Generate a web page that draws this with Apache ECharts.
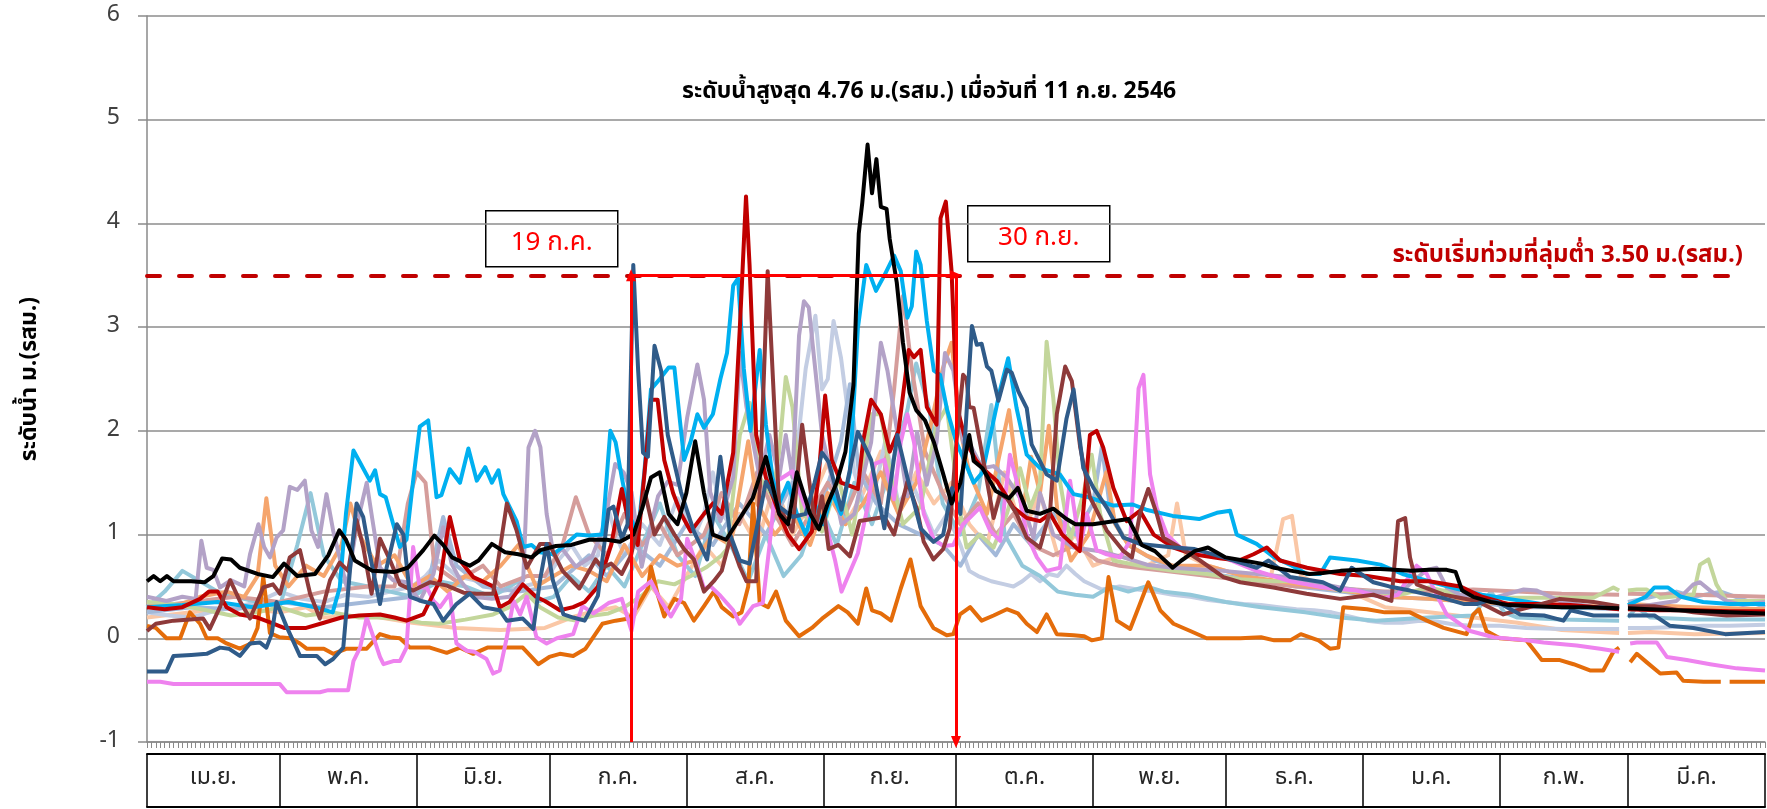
<!DOCTYPE html>
<html><head><meta charset="utf-8">
<script src="https://cdn.jsdelivr.net/npm/echarts@6/dist/echarts.min.js"></script>
<style>html,body{margin:0;padding:0;background:#fff}#c{width:1767px;height:809px}</style>
</head><body><div id="c"></div>
<script>
// ---- categories / ticks ----
const months = ['เม.ย.','พ.ค.','มิ.ย.','ก.ค.','ส.ค.','ก.ย.','ต.ค.','พ.ย.','ธ.ค.','ม.ค.','ก.พ.','มี.ค.'];
const monthDays = [30,31,30,31,31,30,31,30,31,31,29,31];
const yTicks = {min:-1, max:6, step:1};
const threshold = 3.5;
const floodStartDay = 109.5; // 19 ก.ค.
const floodEndDay = 183;     // 30 ก.ย.
const titleText = 'ระดับน้ำสูงสุด 4.76 ม.(รสม.) เมื่อวันที่ 11 ก.ย. 2546';
const thresholdText = 'ระดับเริ่มท่วมที่ลุ่มต่ำ 3.50 ม.(รสม.)';
const yName = 'ระดับน้ำ ม.(รสม.)';

// ---- series values: [day from 1 Apr, level m.(MSL)] ----
const sBlack = [[0,0.55],[1.5,0.6],[3,0.55],[4.5,0.6],[6,0.55],[10,0.55],[13,0.54],[15,0.6],[17,0.77],[19,0.76],[21,0.68],[25,0.62],[28.5,0.59],[31,0.72],[34,0.6],[38,0.62],[41,0.8],[43.5,1.04],[45,0.95],[47,0.75],[51,0.65],[56,0.64],[59,0.68],[62.5,0.85],[65,0.99],[67,0.9],[69,0.78],[73,0.7],[75,0.75],[78,0.91],[81,0.83],[84,0.81],[87,0.78],[89,0.85],[92.5,0.89],[96,0.9],[100,0.95],[104,0.95],[107,0.93],[110,1.0],[112,1.25],[114,1.55],[116,1.6],[118,1.2],[120,1.1],[122,1.4],[124,1.9],[126,1.4],[128,1.0],[131,0.95],[134,1.15],[137,1.35],[140,1.75],[143,1.2],[145,1.1],[147,1.6],[150,1.2],[152,1.05],[154,1.3],[156,1.5],[158,1.8],[159.8,2.44],[161,3.9],[161.8,4.2],[163,4.76],[164,4.29],[165,4.62],[166,4.16],[167.3,4.14],[168,3.85],[169.6,3.43],[171,2.85],[172.5,2.37],[174,2.2],[176,2.1],[178,1.89],[180,1.6],[182,1.3],[184,1.5],[186,1.96],[187,1.71],[189,1.64],[192,1.42],[195,1.35],[197,1.45],[199,1.23],[202,1.2],[205,1.25],[208,1.15],[210,1.1],[214,1.1],[219,1.13],[222,1.15],[225,0.9],[228,0.84],[232,0.68],[234,0.75],[237,0.84],[240,0.875],[244,0.78],[248,0.75],[252,0.72],[255,0.68],[259,0.65],[263,0.62],[266,0.63],[270,0.65],[274,0.66],[278,0.67],[282,0.66],[286,0.65],[290,0.66],[294,0.66],[296,0.64],[297.5,0.46],[300,0.4],[304,0.35],[308,0.32],[314,0.31],[320,0.3],[326,0.3],[333,0.29],[334,null],[335,0.29],[340,0.28],[346,0.27],[352,0.26],[358,0.25],[366,0.24]];
const sCyan = [[0,0.3],[8,0.32],[16,0.35],[24,0.3],[32,0.35],[38,0.3],[42,0.25],[43.6,0.49],[45,1.2],[46.7,1.81],[48,1.71],[50.4,1.52],[51.6,1.62],[52.7,1.39],[54,1.36],[55.7,1.1],[57.2,0.88],[58.7,0.95],[60.2,1.52],[61.7,2.04],[63.6,2.1],[65.5,1.36],[66.6,1.38],[68.5,1.63],[70.8,1.5],[72.7,1.83],[74.6,1.52],[76.5,1.65],[78,1.5],[79.5,1.62],[80.6,1.39],[82.1,1.26],[83.6,1.13],[85.1,0.88],[87,0.9],[88.9,0.83],[91.9,0.81],[94,0.88],[97.2,1.0],[100,0.99],[103,1.0],[104.8,2.0],[106,1.89],[107.4,1.55],[109,1.2],[111,1.0],[112.5,1.6],[114,2.4],[116,2.5],[118,2.61],[119.3,2.61],[120.3,2.2],[121.5,1.72],[123,1.9],[124.5,2.16],[126,2.03],[128,2.16],[129.7,2.5],[131.2,2.75],[132.6,3.4],[133.7,3.47],[135,2.6],[136.5,2.0],[138.6,2.78],[140,2.06],[141.5,1.55],[143,1.3],[145,1.5],[147,1.2],[149,1.0],[151,1.3],[153,1.1],[155,1.4],[157,1.2],[159,1.6],[160.8,2.99],[162.7,3.6],[164.9,3.35],[166.8,3.5],[169,3.69],[170.5,3.54],[172,3.09],[173,3.2],[174,3.73],[175,3.6],[176.4,3.06],[178,2.58],[179.4,2.54],[181,2.2],[183,1.9],[185,1.7],[187,1.5],[189,1.6],[191,2.0],[193,2.4],[194.8,2.7],[196.7,2.22],[199,1.77],[202,1.64],[206.5,1.58],[209.6,1.39],[213,1.36],[218.6,1.28],[223,1.29],[226,1.24],[232,1.18],[238,1.15],[242,1.21],[245,1.23],[246.5,1.0],[251,0.91],[255,0.78],[259,0.7],[262.4,0.62],[265.4,0.62],[267.6,0.78],[273.7,0.75],[279,0.71],[284,0.62],[290,0.55],[296,0.48],[302,0.42],[308,0.38],[314,0.34],[320,0.3],[326,0.3],[333,0.3],[334,null],[335,0.32],[339,0.4],[341,0.49],[344,0.49],[347,0.4],[352,0.35],[358,0.33],[366,0.33]];
const sDarkRed = [[0,0.3],[4,0.28],[8,0.3],[12,0.38],[14,0.45],[16,0.45],[18,0.3],[21,0.23],[25,0.2],[28,0.15],[31,0.1],[36,0.1],[40,0.15],[44,0.2],[48,0.22],[52.7,0.23],[56,0.2],[58.7,0.17],[62.5,0.23],[66.3,0.56],[68.5,1.17],[70.8,0.75],[73.8,0.59],[78.3,0.5],[79.8,0.3],[82,0.35],[85,0.52],[88,0.4],[90,0.36],[93.4,0.27],[96.4,0.3],[99,0.35],[102,0.5],[105,0.9],[107.4,1.44],[109,1.1],[111,0.9],[113,1.8],[114,2.3],[115.5,2.3],[117,1.72],[119,1.4],[120.8,1.2],[123,1.03],[126,1.2],[128,1.3],[130,1.2],[132.6,1.79],[134.1,2.99],[135.5,4.26],[136.3,3.6],[137.8,1.96],[140,1.55],[143,1.2],[145,1.0],[147.5,0.86],[150.4,1.03],[152,1.6],[153.4,2.34],[154.9,1.72],[157,1.5],[160.8,1.44],[162,1.9],[163.8,2.3],[166,2.16],[168,1.8],[170,2.0],[172.3,2.78],[173.5,2.71],[175,2.78],[176.4,2.23],[178.6,2.06],[179.5,4.05],[180.7,4.21],[182,3.54],[183.2,2.23],[185.3,1.89],[187.5,1.72],[189,1.64],[192.2,1.52],[196,1.26],[199,1.16],[202,1.13],[204.3,1.2],[207,1.0],[211,0.84],[213.3,1.96],[214.8,2.0],[216.3,1.84],[218.6,1.45],[221.6,1.13],[224.6,1.23],[227.7,1.0],[232.2,0.875],[236.7,0.81],[243,0.77],[247,0.75],[250.3,0.81],[253.3,0.875],[256.3,0.75],[262.4,0.68],[269.9,0.62],[276,0.6],[283.5,0.55],[290,0.55],[297,0.5],[302,0.4],[308,0.33],[315,0.33],[322,0.32],[328,0.3],[333,0.28],[334,null],[335,0.28],[342,0.27],[350,0.27],[358,0.26],[366,0.26]];
const sDarkBlue = [[0,-0.32],[4.4,-0.32],[6,-0.17],[10,-0.16],[13.5,-0.15],[16.5,-0.09],[18.5,-0.1],[21,-0.17],[23.3,-0.05],[25.5,-0.04],[27,-0.09],[28.2,0.04],[29.3,0.35],[31.6,0.11],[34.6,-0.17],[38.4,-0.17],[40.3,-0.25],[42.1,-0.2],[44.4,-0.09],[45.9,0.65],[47.4,1.3],[48.9,1.17],[50.4,0.81],[52.7,0.33],[54.2,0.68],[56.5,1.1],[58,1.0],[59.5,0.4],[62,0.36],[64.8,0.33],[67,0.17],[70,0.33],[73,0.43],[76,0.3],[79.8,0.27],[81.4,0.17],[85,0.19],[87.4,0.09],[88.9,0.56],[90.4,0.91],[91.8,0.56],[94.2,0.23],[96.4,0.2],[99,0.17],[102,0.41],[104.4,1.24],[105.5,1.27],[107.4,0.96],[108.7,1.1],[110,3.6],[111.1,2.58],[112.2,1.79],[113.3,1.75],[114.8,2.82],[116.3,2.58],[117.8,1.96],[120.8,1.41],[123.7,1.03],[126.7,0.76],[128.5,1.3],[129.7,1.75],[131.9,1.0],[134.1,0.75],[136.3,0.72],[138.6,1.2],[140,1.51],[143,1.27],[146,1.17],[149,1.2],[151,1.5],[152.7,1.79],[154.2,1.7],[157.1,1.24],[160.8,1.99],[163.8,1.72],[166.8,1.06],[169.7,1.96],[172,1.55],[175,1.06],[177.9,0.93],[180.1,1.0],[182.1,1.45],[184,1.2],[185.7,2.4],[186.6,3.01],[187.7,2.83],[188.8,2.84],[190,2.62],[191,2.58],[192.6,2.29],[194.5,2.59],[195.6,2.56],[197.1,2.38],[199,2.22],[200.1,1.87],[203.5,1.58],[205.8,1.52],[208,2.12],[209.6,2.4],[211.8,1.64],[214.1,1.45],[217.1,1.26],[220.9,0.97],[224.6,0.91],[232.2,0.875],[237,0.86],[243.5,0.78],[251,0.68],[253.7,0.75],[258.6,0.59],[266,0.54],[269.9,0.46],[272.5,0.68],[277.4,0.54],[281,0.5],[285.7,0.46],[293,0.39],[298,0.33],[300.8,0.33],[303,0.36],[305.5,0.35],[310.6,0.23],[316,0.22],[320.4,0.17],[322,0.27],[327.2,0.22],[333,0.22],[334,null],[335,0.22],[341,0.22],[344.5,0.12],[349.8,0.1],[357,0.04],[362,0.05],[366,0.06]];
const sMaroon = [[0,0.07],[2,0.14],[6,0.17],[12.7,0.19],[14.2,0.09],[16.5,0.3],[18.8,0.56],[21,0.36],[23.3,0.19],[26.3,0.49],[28.5,0.52],[30.1,0.43],[32.3,0.78],[34.6,0.85],[36.9,0.43],[39.1,0.19],[41.4,0.56],[43.6,0.73],[45.5,0.65],[47.4,1.14],[48.9,0.88],[50.8,0.43],[52.7,0.96],[55,0.75],[57.2,0.52],[60.2,0.46],[64,0.54],[67.7,0.51],[71.6,0.44],[74.6,0.43],[78.3,0.43],[81.4,1.3],[83.6,1.04],[85.9,0.68],[88.9,0.91],[91,0.91],[94,0.65],[97.8,0.48],[101.5,0.76],[103,0.68],[105,0.72],[107.4,0.62],[109.5,0.8],[112.6,1.41],[114.8,1.0],[117,1.17],[119.3,1.0],[121.5,0.86],[123.7,0.76],[126,0.45],[128.2,0.55],[130,0.65],[131.9,0.96],[134.1,0.69],[135.6,0.55],[137.8,0.55],[139,1.89],[140.4,3.54],[141.5,2.58],[143,1.27],[146,1.03],[148.2,2.06],[149.7,1.55],[151.2,1.06],[152.7,1.37],[154.2,0.86],[156.4,0.9],[159,0.79],[161.2,1.13],[164,1.15],[166.8,1.17],[169,1.0],[172,1.51],[174.2,1.24],[175.7,0.93],[177.9,0.76],[180.1,0.86],[181.6,1.06],[183.1,1.89],[184.6,2.54],[185.4,2.5],[186,2.23],[187,2.22],[189.2,1.71],[191.5,1.16],[193,1.39],[194.5,1.35],[196.7,1.2],[199,0.97],[202,0.875],[204.3,1.23],[205.8,2.16],[207.7,2.62],[209.2,2.48],[211.1,1.84],[213.3,1.36],[217.1,1.04],[220.9,0.84],[222.8,0.78],[224.6,1.2],[226.5,1.44],[228.4,1.2],[229.9,0.97],[233.7,0.875],[238.2,0.75],[243.5,0.59],[247.3,0.54],[254.8,0.49],[262.3,0.43],[269.9,0.38],[277.4,0.42],[281.5,0.36],[283,1.13],[284.6,1.16],[285.7,0.78],[287.2,0.52],[293.3,0.42],[300.8,0.36],[306.8,0.23],[310,0.27],[313.6,0.31],[319.6,0.38],[327.2,0.35],[333,0.31],[334,null],[335,0.31],[341,0.31],[349.8,0.25],[357.3,0.22],[366,0.23]];
const sOrange = [[0,0.12],[2,0.1],[4.4,0],[7.5,0.0],[9.7,0.25],[12,0.14],[13.5,0],[16,0],[18,-0.05],[21,-0.1],[23.5,-0.05],[25,0.1],[26.3,0.59],[27.8,0.05],[30,0.01],[32.5,0],[34.6,-0.05],[36.1,-0.1],[40,-0.1],[42.1,-0.15],[45.2,-0.1],[49.7,-0.1],[52.7,0.04],[55,0.01],[57.2,0],[59.5,-0.09],[64,-0.09],[67.8,-0.14],[70.8,-0.09],[73.8,-0.15],[77,-0.09],[81,-0.09],[85,-0.09],[88.5,-0.25],[91,-0.18],[93.4,-0.15],[96.4,-0.17],[99.2,-0.1],[103,0.14],[106,0.17],[109,0.19],[111,0.31],[113.3,0.48],[114,0.69],[115.6,0.41],[117,0.21],[119.3,0.38],[121.5,0.34],[123.7,0.17],[126,0.31],[128.2,0.45],[130,0.3],[132.6,0.21],[134.5,0.25],[136,0.5],[137.1,1.3],[138.6,0.34],[140.5,0.3],[142.3,0.45],[144.5,0.17],[147.5,0.02],[150.4,0.1],[153,0.2],[156.4,0.31],[158.5,0.25],[160.8,0.14],[162.7,0.48],[164,0.27],[166,0.24],[168.3,0.17],[170.5,0.48],[172.7,0.76],[175,0.31],[177.9,0.1],[180.9,0.03],[182.4,0.04],[183.9,0.23],[186.2,0.3],[188.8,0.17],[191.5,0.22],[194.5,0.28],[197,0.24],[199,0.14],[201.3,0.06],[203.5,0.23],[205.8,0.04],[209.6,0.03],[212,0.02],[213.7,-0.02],[216,0.0],[217.5,0.59],[219.4,0.17],[222.4,0.09],[224.6,0.33],[226.5,0.54],[229.2,0.27],[232.2,0.14],[236,0.07],[239.7,0],[247.3,0],[252,0.01],[255,-0.02],[258.6,-0.02],[261,0.04],[265,-0.02],[267.6,-0.1],[269.5,-0.09],[270.6,0.3],[276,0.28],[280,0.25],[285.7,0.25],[289.5,0.17],[293.3,0.1],[298.5,0.04],[300,0.23],[301.3,0.28],[303,0.07],[306,0],[312,-0.02],[315.5,-0.21],[319.6,-0.21],[322.7,-0.25],[326.4,-0.31],[329.4,-0.31],[331.7,-0.13],[333,-0.09],[334,null],[335.5,-0.23],[337,-0.15],[339.2,-0.23],[342.3,-0.34],[346,-0.33],[347.5,-0.41],[352.1,-0.42],[356,-0.42],[357,null],[358,-0.42],[366,-0.42]];
const sPink = [[0,-0.42],[3,-0.42],[6,-0.44],[30,-0.44],[31.6,-0.52],[39.1,-0.52],[41,-0.5],[45.5,-0.5],[46.7,-0.22],[48.2,-0.09],[49.7,0.2],[51,0.04],[52.7,-0.18],[53.5,-0.25],[55.7,-0.22],[57.2,-0.22],[58.7,-0.09],[60.2,0.88],[61.7,0.49],[63.3,0.49],[64.8,0.36],[66.3,0.3],[68.5,0.43],[70,-0.05],[72.3,-0.12],[74,-0.13],[76.8,-0.2],[78.3,-0.34],[79.8,-0.31],[81.4,0.01],[82.9,0.36],[84.4,0.23],[85.9,0.4],[88.1,0.01],[90.4,-0.05],[92.7,0],[96.4,0.04],[98.5,0.31],[101,0.24],[104.4,0.34],[107.4,0.38],[109.6,0.07],[111.1,0.45],[114,0.55],[116,0.38],[118.5,0.21],[120.8,0.38],[122.2,0.96],[124.5,0.69],[126,0.48],[127.5,0.5],[129.7,0.41],[132.6,0.27],[134.1,0.14],[137.1,0.31],[139.3,0.34],[140.8,0.89],[142.3,1.51],[143.8,1.55],[146,1.61],[148.2,1.34],[150.4,1.1],[153.4,1.13],[155.6,0.76],[157.1,0.45],[160.8,0.82],[163,1.27],[164.5,1.68],[166.8,1.72],[169,1.34],[170.5,1.89],[172,2.16],[173.5,1.89],[175.7,1.2],[177.9,0.96],[180.1,0.89],[182.4,0.9],[184.6,1.1],[187,1.2],[188.4,1.26],[190.7,1.04],[193,0.94],[195.2,1.77],[196.7,1.52],[199,1.0],[201.3,0.78],[203.5,0.65],[206.5,0.68],[208.8,1.52],[211,0.875],[212.6,1.2],[214.8,0.85],[217.1,0.81],[220.1,0.78],[222.4,0.94],[224.3,2.41],[225.4,2.54],[226.9,1.58],[228.4,1.26],[230.7,1.0],[233.7,0.875],[238.2,0.84],[243.5,0.78],[251,0.65],[258.6,0.55],[266.1,0.49],[273.7,0.46],[280,0.39],[283,0.42],[285.5,0.6],[287.2,0.7],[289.5,0.62],[291.7,0.42],[294,0.23],[299.3,0.07],[304.6,0.01],[312,-0.02],[315.9,-0.04],[323.4,-0.07],[328.7,-0.1],[333,-0.13],[334,null],[335.5,-0.05],[337,-0.04],[341.5,-0.04],[343.8,-0.18],[348.3,-0.21],[353.6,-0.25],[359.6,-0.29],[366,-0.31]];
const sPurple = [[0,0.4],[4.4,0.36],[8,0.4],[11,0.38],[12.3,0.94],[13.5,0.68],[15,0.66],[16.5,0.49],[19,0.56],[22,0.5],[23.3,0.81],[25.2,1.1],[26.5,0.88],[27.8,0.78],[29.3,0.97],[30.8,1.04],[32.3,1.46],[34,1.43],[35.7,1.52],[37.2,1.04],[38.7,0.88],[40.6,1.39],[42.1,1.04],[45.2,0.49],[47.5,1.1],[49.7,1.5],[51,1.14],[52.7,0.68],[55.7,0.56],[58.7,0.54],[61.7,0.36],[64.8,0.62],[67,1.07],[68.9,0.72],[71,0.55],[73.8,0.4],[78,0.38],[82,0.4],[85.1,0.56],[86.3,1.84],[87.8,2.0],[89,1.84],[90.4,1.2],[92,0.8],[94,0.86],[97,0.69],[100.7,0.79],[103.5,1.1],[105.9,1.68],[107.8,1.6],[109.6,1.41],[111.9,0.69],[113.5,1.0],[115.6,1.37],[117.8,1.51],[120,1.48],[122.2,2.13],[124.5,2.64],[126,2.3],[127.4,1.41],[129.7,1.13],[132.6,1.55],[134.1,2.75],[135.6,2.23],[137.1,1.89],[138.6,1.55],[140.8,1.96],[143,1.55],[144.5,1.96],[146,1.55],[147.5,2.92],[148.6,3.25],[149.7,3.19],[151.2,2.58],[152.7,1.96],[154.9,1.55],[157.1,1.1],[160,1.2],[163.8,1.89],[166,2.85],[167.5,2.58],[169.7,1.99],[172,1.37],[174.2,1.99],[176.4,1.48],[178.6,1.89],[180.5,2.75],[182.4,2.58],[184.6,1.89],[185.4,1.93],[189,1.64],[191.5,1.66],[194.5,1.55],[198,1.32],[200.5,0.97],[202,1.4],[205,1.0],[209.6,0.875],[215.6,0.84],[220.9,0.78],[226.2,0.71],[232,0.68],[243.5,0.65],[251,0.62],[258,0.59],[269.9,0.49],[276,0.45],[283.4,0.44],[289.5,0.66],[291.7,0.68],[294,0.49],[297,0.42],[304.6,0.39],[311.4,0.47],[314.4,0.46],[319.6,0.36],[327.2,0.3],[333,0.3],[334,null],[335,0.3],[340,0.32],[346,0.36],[349.8,0.52],[351.3,0.54],[353.6,0.46],[357.3,0.36],[361,0.32],[366,0.35]];
const sGreen = [[0,0.35],[6,0.33],[13.5,0.27],[19,0.22],[25,0.25],[30,0.3],[36,0.22],[42,0.25],[48,0.2],[52.7,0.2],[58,0.18],[62,0.15],[66,0.14],[72,0.18],[78.3,0.23],[82,0.3],[85.9,0.43],[88.9,0.3],[93,0.2],[97,0.17],[101,0.22],[104.4,0.24],[108,0.3],[111.9,0.41],[115.6,0.55],[119.3,0.52],[123,0.6],[126.7,0.69],[130,0.8],[131.2,0.86],[134.1,1.96],[136.3,2.27],[138.6,1.55],[141.5,1.37],[143,1.8],[144.5,2.52],[146,2.23],[148.2,1.2],[152.7,1.03],[156.4,1.55],[159.5,1.0],[161.5,1.5],[163.8,2.16],[166,2.16],[168.3,1.55],[171,1.1],[175,1.27],[178.6,2.06],[180.9,2.23],[182.5,1.7],[184,1.2],[185.4,0.875],[188.4,1.0],[191.5,0.875],[194.5,1.2],[197.5,1.64],[199.8,1.26],[202,1.5],[203.5,2.86],[205,2.32],[206.5,1.52],[208.8,0.94],[211.8,1.39],[213.7,1.77],[215.6,1.2],[218.6,0.75],[224.6,0.7],[232.2,0.65],[239.7,0.62],[247.3,0.57],[254.8,0.55],[262.3,0.55],[269.9,0.46],[277,0.45],[283.4,0.42],[290,0.49],[297,0.42],[305,0.39],[320,0.39],[327.2,0.39],[331.7,0.49],[333,0.46],[334,null],[335,0.46],[337,0.47],[339.2,0.47],[342.3,0.39],[349.8,0.42],[351.3,0.71],[353.2,0.76],[355,0.52],[357.3,0.36],[366,0.36]];
const sGrayBlue = [[0,0.25],[5,0.22],[10,0.2],[15,0.26],[20,0.3],[25,0.35],[30,0.45],[35,0.38],[40,0.35],[45,0.42],[50,0.4],[55,0.45],[60,0.5],[63,0.6],[66,0.75],[70,0.6],[75,0.55],[80,0.45],[85,0.5],[90,0.55],[93,0.75],[96,0.9],[99,0.7],[102,0.8],[104,1.3],[106,1.0],[108,0.8],[112,1.1],[116,0.9],[120,1.35],[124,1.0],[126,1.2],[128,1.6],[130,1.2],[132,1.1],[136,1.25],[138,1.5],[140,1.7],[142,1.3],[145,1.2],[147,1.8],[149,2.6],[151.2,3.11],[152.7,2.4],[154,2.5],[155.3,3.06],[157,2.7],[158.5,2.2],[160,1.6],[163,1.2],[165,1.5],[167,1.9],[170,1.3],[173,1.5],[176,1.2],[178,1.0],[181,1.2],[184,0.9],[186,0.65],[188,0.6],[191,0.55],[194,0.52],[196,0.5],[198,0.55],[200,0.62],[202,0.55],[204,0.62],[206,0.6],[208,0.7],[210,0.62],[212,0.55],[216,0.47],[220,0.5],[224,0.47],[228,0.45],[232,0.42],[236,0.4],[240,0.37],[244,0.35],[248,0.33],[252,0.32],[256,0.3],[260,0.28],[264,0.27],[268,0.25],[272,0.21],[276,0.17],[280,0.15],[284,0.15],[288,0.17],[292,0.16],[296,0.13],[300,0.12],[306,0.12],[312,0.1],[320,0.09],[327,0.09],[333,0.09],[334,null],[335,0.1],[340,0.1],[346,0.11],[352,0.12],[358,0.12],[366,0.13]];
const sTeal = [[0,0.3],[4,0.45],[8,0.65],[12,0.55],[16,0.45],[20,0.4],[25,0.35],[30,0.3],[34,0.9],[37,1.4],[40,0.8],[44,0.55],[50,0.5],[55,0.45],[60,0.4],[66,0.55],[72,0.5],[78,0.4],[84,0.55],[88,0.35],[92,0.4],[96,0.6],[100,0.45],[104,0.7],[108,0.5],[112,0.9],[116,1.3],[120,0.8],[124,0.6],[128,1.2],[132,0.9],[136,0.55],[140,1.0],[144,0.6],[148,0.8],[152,1.3],[156,0.9],[160,1.5],[164,1.1],[168,1.6],[172,2.2],[174,2.65],[177,2.2],[180,1.3],[184,1.0],[188,1.4],[191,2.25],[194,1.0],[198,0.7],[202,0.6],[206,0.45],[210,0.42],[214,0.4],[218,0.5],[222,0.45],[226,0.5],[230,0.45],[236,0.42],[244,0.35],[252,0.3],[262,0.25],[270,0.2],[278,0.17],[290,0.2],[300,0.22],[304,0.45],[307,0.25],[310,0.2],[320,0.18],[333,0.17],[334,null],[335,0.2],[337,0.3],[340,0.2],[350,0.18],[366,0.18]];
const sPeachPale = [[0,0.2],[10,0.25],[20,0.3],[30,0.25],[36,0.3],[40,0.2],[50,0.22],[60,0.15],[70,0.1],[80,0.08],[90,0.1],[96,0.2],[100,0.25],[106,0.3],[110,0.2],[114,0.5],[118,0.3],[122,0.6],[126,0.9],[130,0.7],[134,1.2],[138,0.9],[142,1.5],[146,1.0],[150,1.3],[154,1.7],[158,1.1],[162,1.4],[166,1.8],[170,1.2],[174,1.6],[178,1.3],[182,1.5],[186,1.1],[190,0.9],[194,1.6],[198,1.0],[202,1.4],[206,0.8],[210,1.0],[214,0.7],[220,0.8],[226,0.7],[231,0.8],[233,1.3],[235,0.8],[240,0.7],[248,0.6],[254,0.55],[257,1.15],[259,1.18],[261,0.6],[266,0.5],[272,0.45],[280,0.3],[290,0.25],[300,0.2],[310,0.15],[320,0.08],[333,0.05],[334,null],[335,0.05],[340,0.06],[350,0.04],[366,0.05]];
const sSandy = [[0,0.35],[6,0.3],[12,0.4],[18,0.45],[22,0.4],[25,0.6],[27,1.35],[29,0.7],[32,0.5],[36,0.7],[40,0.6],[44,0.9],[46,1.3],[48,1.0],[52,0.7],[56,0.8],[60,0.5],[64,0.6],[68,0.45],[72,0.6],[76,0.55],[80,0.7],[84,0.9],[88,0.5],[92,0.6],[96,0.7],[100,0.65],[104,0.55],[108,0.9],[112,0.6],[116,0.8],[120,0.7],[124,0.75],[128,1.0],[132,0.9],[136,1.9],[138,1.3],[142,1.0],[146,1.2],[150,0.9],[154,1.4],[158,1.1],[162,1.3],[166,1.6],[170,1.2],[174,1.5],[177,2.0],[180,2.6],[182,2.85],[184,2.0],[186,1.6],[190,1.2],[195,2.2],[198,1.2],[200,1.75],[202,1.4],[204,2.05],[206,1.2],[209,0.75],[213,1.0],[217,1.6],[219,1.1],[222,0.9],[226,0.8],[232,0.7],[240,0.7],[248,0.6],[256,0.55],[264,0.5],[272,0.45],[280,0.4],[290,0.38],[300,0.35],[310,0.33],[320,0.32],[333,0.3],[334,null],[335,0.33],[350,0.3],[366,0.28]];
const sRosy = [[0,0.3],[10,0.35],[20,0.4],[30,0.35],[40,0.45],[50,0.5],[56,0.5],[59,1.3],[61,1.6],[63,1.5],[65,0.7],[70,0.55],[76,0.7],[80,0.5],[86,0.6],[90,0.6],[94,0.9],[97,1.36],[100,1.0],[104,0.8],[108,1.2],[112,0.9],[116,1.1],[120,0.8],[126,1.0],[130,1.4],[134,1.1],[138,1.6],[142,1.2],[146,0.9],[150,1.2],[154,1.5],[158,1.2],[162,1.6],[166,1.3],[169,2.4],[171,3.3],[173,2.6],[176,1.8],[180,1.4],[184,1.1],[188,1.3],[192,1.0],[196,1.2],[200,0.9],[205,0.8],[210,0.9],[215,0.75],[220,0.7],[230,0.65],[240,0.6],[250,0.55],[260,0.5],[270,0.48],[280,0.45],[290,0.45],[300,0.47],[310,0.45],[320,0.43],[333,0.42],[334,null],[335,0.43],[350,0.42],[366,0.4]];
const sSteel = [[0,0.25],[10,0.3],[20,0.28],[30,0.35],[40,0.3],[50,0.35],[60,0.4],[64,0.6],[67,1.17],[70,0.7],[76,0.5],[84,0.45],[92,0.5],[100,0.8],[104,0.6],[110,0.9],[116,0.7],[122,1.1],[128,0.9],[134,1.3],[140,1.0],[146,1.5],[152,1.2],[157,1.9],[159,2.45],[161,1.6],[165,1.3],[170,1.1],[175,1.0],[180,0.9],[184,0.7],[188,1.0],[192,0.8],[196,1.1],[200,0.9],[205,1.2],[210,1.0],[214,1.3],[216,1.85],[218,1.2],[222,0.9],[228,0.75],[236,0.65],[244,0.6],[252,0.55],[260,0.5],[270,0.45],[280,0.4],[290,0.38],[300,0.35],[310,0.3],[320,0.3],[333,0.28],[334,null],[335,0.35],[346,0.45],[350,0.4],[356,0.45],[366,0.3]];

// ---- styling (not data) ----
const FONT = "'Noto Sans Thai', 'Leelawadee UI', Tahoma, 'DejaVu Sans', sans-serif";
const seriesDefs = [
  ['peachPale', sPeachPale, '#fac7a6'],
  ['grayBlue', sGrayBlue, '#c3cde3'],
  ['teal', sTeal, '#93c8da'],
  ['steel', sSteel, '#a3b9d9'],
  ['rosy', sRosy, '#d59d9b'],
  ['sandy', sSandy, '#f5a56d'],
  ['green', sGreen, '#c3d69b'],
  ['purple', sPurple, '#b3a2c7'],
  ['orange', sOrange, '#e46c0a'],
  ['pink', sPink, '#ee82ee'],
  ['cyan', sCyan, '#00b0f0'],
  ['darkRed', sDarkRed, '#c00000'],
  ['maroon', sMaroon, '#8e3a3a'],
  ['darkBlue', sDarkBlue, '#2f5b89'],
  ['black', sBlack, '#000000']
];

const monthEdges = [0];
monthDays.forEach(d => monthEdges.push(monthEdges[monthEdges.length-1] + d));
const monthMids = months.map((m,i) => (monthEdges[i] + monthEdges[i+1]) / 2);

const series = seriesDefs.map(([name, data, color]) => ({
  name, type: 'line', data, xAxisIndex: 0, yAxisIndex: 0,
  showSymbol: false, symbol: 'none', connectNulls: false, animation: false,
  lineStyle: {color, width: 4, join: 'round'}, itemStyle: {color}
}));
series.push({
  type: 'line', data: [], xAxisIndex: 0, yAxisIndex: 0, z: 8, animation: false,
  markLine: {silent: true, animation: false, symbol: ['none','none'], label: {show: false},
    lineStyle: {color: '#c00000', width: 4, type: [13, 19], cap: 'round'},
    data: [[{coord: [0, threshold]}, {coord: [361.5, threshold]}]]}
});
series.push({
  type: 'line', data: [], xAxisIndex: 0, yAxisIndex: 0, z: 9, animation: false,
  markLine: {silent: true, animation: false, symbol: ['none','triangle'], symbolSize: [10, 12], label: {show: false},
    lineStyle: {color: '#ff0000', width: 3, type: 'solid'},
    data: [
      [{coord: [floodStartDay, yTicks.min]}, {coord: [floodStartDay, threshold]}],
      [{coord: [floodStartDay, threshold]}, {coord: [floodEndDay, threshold]}],
      [{coord: [floodEndDay, threshold]}, {coord: [floodEndDay, yTicks.min]}]
    ]}
});

const chart = echarts.init(document.getElementById('c'), null, {renderer: 'canvas'});
chart.setOption({
  animation: false,
  backgroundColor: '#ffffff',
  textStyle: {fontFamily: FONT},
  grid: {left: 147, right: 2, top: 16, bottom: 67, containLabel: false},
  xAxis: [
    {type: 'value', min: 0, max: 366, interval: 1, position: 'bottom',
     axisLine: {show: true, onZero: false, lineStyle: {color: '#8a8a8a', width: 1.5}},
     axisTick: {show: true, length: 6, lineStyle: {color: '#8a8a8a', width: 1}},
     axisLabel: {show: false}, splitLine: {show: false}},
    {type: 'value', min: 0, max: 366, position: 'bottom', offset: 12,
     axisLine: {show: true, onZero: false, lineStyle: {color: '#000', width: 2}},
     axisTick: {show: true, customValues: monthEdges, length: 53, lineStyle: {color: '#000', width: 1.5}},
     axisLabel: {show: true, customValues: monthMids, margin: 14, fontSize: 23, color: '#262626', fontFamily: FONT,
       formatter: v => months[monthMids.indexOf(v)] || ''},
     splitLine: {show: false}},
    {type: 'value', min: 0, max: 366, position: 'bottom', offset: 65,
     axisLine: {show: true, onZero: false, lineStyle: {color: '#000', width: 2}},
     axisTick: {show: false}, axisLabel: {show: false}, splitLine: {show: false}}
  ],
  yAxis: {type: 'value', min: yTicks.min, max: yTicks.max, interval: yTicks.step,
    name: yName, nameLocation: 'middle', nameGap: 104, nameRotate: 90,
    nameTextStyle: {fontSize: 23, fontWeight: 'bold', color: '#000', fontFamily: FONT},
    axisLine: {show: true, lineStyle: {color: '#8a8a8a', width: 1.5}},
    axisTick: {show: true, length: 9, lineStyle: {color: '#8a8a8a', width: 1.5}},
    axisLabel: {fontSize: 23, color: '#404040', margin: 27, fontFamily: FONT},
    splitLine: {show: true, lineStyle: {color: '#8c8c8c', width: 1.5}}},
  graphic: [
    {type: 'text', left: 682, top: 82, z: 20, style: {text: titleText, fill: '#000', font: 'bold 23px ' + FONT}},
    {type: 'text', right: 24, top: 245, z: 20, style: {text: thresholdText, fill: '#c00000', font: 'bold 24px ' + FONT}},
    {type: 'group', left: 485, top: 210, z: 20, children: [
      {type: 'rect', shape: {x: 0, y: 0, width: 132, height: 56}, style: {fill: '#fff', stroke: '#000', lineWidth: 1.5}},
      {type: 'text', x: 66, y: 34, style: {text: '19 ก.ค.', fill: '#ff0000', font: '26px ' + FONT, align: 'center', verticalAlign: 'middle'}}
    ]},
    {type: 'group', left: 967, top: 205, z: 20, children: [
      {type: 'rect', shape: {x: 0, y: 0, width: 142, height: 56}, style: {fill: '#fff', stroke: '#000', lineWidth: 1.5}},
      {type: 'text', x: 71, y: 34, style: {text: '30 ก.ย.', fill: '#ff0000', font: '26px ' + FONT, align: 'center', verticalAlign: 'middle'}}
    ]}
  ],
  series
});
</script>
</body></html>
